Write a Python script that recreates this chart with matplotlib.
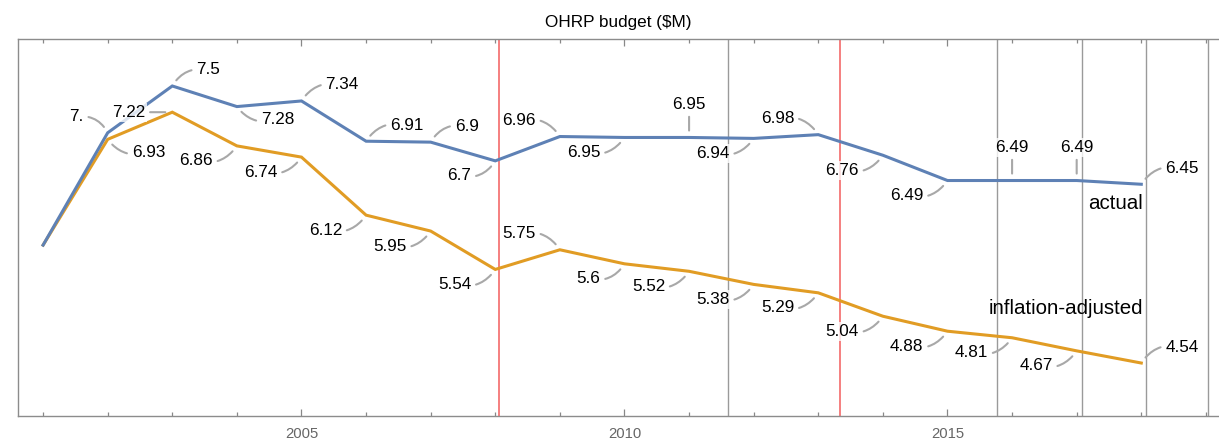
import matplotlib
matplotlib.use("Agg")
import matplotlib.pyplot as plt
from matplotlib.ticker import MultipleLocator, FixedLocator

plt.rcParams['font.family'] = ['Liberation Sans', 'DejaVu Sans']

# data ($M)
years = list(range(2001, 2019))
actual = [5.8, 7.0, 7.5, 7.28, 7.34, 6.91, 6.9, 6.7, 6.96, 6.95,
          6.95, 6.94, 6.98, 6.76, 6.49, 6.49, 6.49, 6.45]
adjusted = [5.8, 6.93, 7.22, 6.86, 6.74, 6.12, 5.95, 5.54, 5.75, 5.6,
            5.52, 5.38, 5.29, 5.04, 4.88, 4.81, 4.67, 4.54]

# event markers (decimal years)
red_events = [2008.06, 2013.34]
gray_events = [2011.6, 2015.76, 2017.08, 2018.08, 2019.04]

# where each callout label sits relative to its point
actual_pos = [None, 'ul', 'ur', 'lr', 'ur', 'ur', 'ur', 'll', 'ul', 'll',
              'u', 'll', 'ul', 'll', 'll', 'u', 'u', 'ur']
adjusted_pos = [None, 'lr', 'l', 'll', 'll', 'll', 'll', 'll', 'ul', 'll',
                'll', 'll', 'll', 'll', 'll', 'll', 'll', 'ur']

BLUE = '#5e81b5'
ORANGE = '#e19c24'

# offset in pixels, horizontal alignment, curve of the leader
place = {
    'ul': (-24, 16, 'right', -0.35),
    'ur': (24, 16, 'left', 0.35),
    'll': (-24, -15, 'right', 0.35),
    'lr': (24, -13, 'left', -0.35),
    'u': (0, 33, 'center', 0.0),
    'l': (-27, 0, 'right', 0.0),
}


def fmt(v):
    s = f"{v:g}"
    return s if '.' in s else s + '.'


fig = plt.figure(figsize=(12.19, 4.43), dpi=100)
ax = fig.add_axes([17.5 / 1219, 27 / 443, 1 - 17.5 / 1219, 377 / 443])

for x in red_events:
    ax.axvline(x, color='#f46a6a', lw=1.2, zorder=1)
for x in gray_events:
    ax.axvline(x, color='#9a9a9a', lw=1.0, zorder=1)

ax.plot(years, adjusted, color=ORANGE, lw=2.2, zorder=2, solid_joinstyle='miter')
ax.plot(years, actual, color=BLUE, lw=2.2, zorder=2, solid_joinstyle='miter')


def callouts(vals, positions):
    for yr, v, p in zip(years, vals, positions):
        if p is None:
            continue
        dx, dy, ha, rad = place[p]
        ax.annotate(fmt(v), xy=(yr, v), xytext=(dx, dy), textcoords='offset pixels',
                    ha=ha, va='center', fontsize=12.3, color='black', zorder=4,
                    bbox=dict(boxstyle='square,pad=0.12', fc='white', ec='none', alpha=0.78),
                    arrowprops=dict(arrowstyle='-', color='#a8a8a8', lw=1.5,
                                    shrinkA=2, shrinkB=5,
                                    connectionstyle=f'arc3,rad={rad}'))


callouts(actual, actual_pos)
callouts(adjusted, adjusted_pos)

ax.annotate('actual', xy=(years[-1], actual[-1]), xytext=(2, -19),
            textcoords='offset pixels', ha='right', va='center', fontsize=14.8)
ax.annotate('inflation-adjusted', xy=(years[-1], adjusted[-1]), xytext=(2, 55),
            textcoords='offset pixels', ha='right', va='center', fontsize=14.8)

ax.set_xlim(2000.604, 2019.203)
ax.set_ylim(3.974, 8.002)

ax.xaxis.set_major_locator(FixedLocator([2005, 2010, 2015]))
ax.xaxis.set_minor_locator(MultipleLocator(1))
ax.tick_params(axis='x', which='both', direction='in', top=True, bottom=True,
               colors='#888888', labelcolor='#666666', labelsize=10.7, pad=8)
ax.tick_params(axis='x', which='major', length=5, width=0.9)
ax.tick_params(axis='x', which='minor', length=3, width=0.9)
ax.tick_params(axis='y', left=False, labelleft=False)

for side in ['left', 'top', 'bottom']:
    ax.spines[side].set_color('#8c8c8c')
    ax.spines[side].set_linewidth(1.0)
ax.spines['right'].set_visible(False)

ax.set_title('OHRP budget ($M)', fontsize=12.3, pad=9)

fig.savefig('out.png', dpi=100)
